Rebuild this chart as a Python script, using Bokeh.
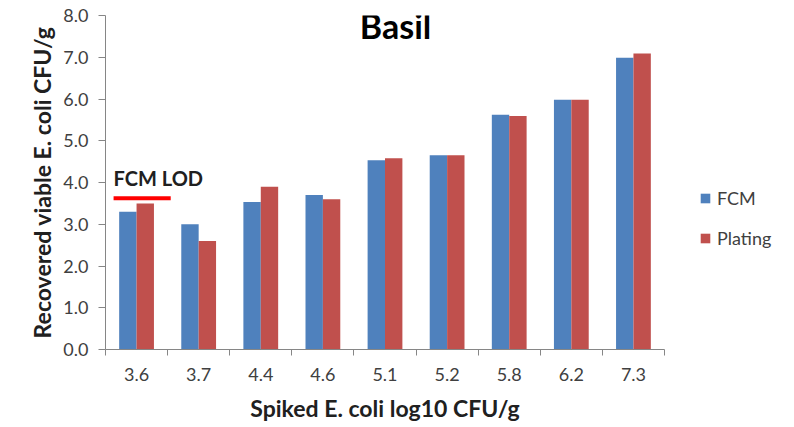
from bokeh.plotting import figure
from bokeh.models import (ColumnDataSource, FixedTicker, Legend, LegendItem, Range1d,
                          CustomJSTickFormatter, Label)
from bokeh.embed import file_html
from bokeh.resources import INLINE

categories = ["3.6", "3.7", "4.4", "4.6", "5.1", "5.2", "5.8", "6.2", "7.3"]
fcm = [3.3, 3.0, 3.53, 3.7, 4.53, 4.65, 5.62, 5.98, 6.99]
plating = [3.5, 2.6, 3.9, 3.6, 4.58, 4.65, 5.59, 5.98, 7.09]
y_ticks = [0, 1, 2, 3, 4, 5, 6, 7, 8]
lod_value = 3.62

FONT = "Lato"
BLUE = "#4F81BD"
RED = "#C0504D"
AXIS = "#868686"

n = len(categories)
centers = [i + 0.5 for i in range(n)]
bw = 0.28

p = figure(frame_width=559, frame_height=334, output_backend="svg", toolbar_location=None,
           x_range=Range1d(0, n), y_range=Range1d(0, 8),
           min_border_left=105, min_border_right=130, min_border_top=15, min_border_bottom=78)
p.outline_line_color = None
p.xgrid.visible = False
p.ygrid.visible = False

src = ColumnDataSource(dict(
    xf=[c - bw / 2 for c in centers],
    xp=[c + bw / 2 for c in centers],
    fcm=fcm, plating=plating))
r1 = p.vbar(x="xf", top="fcm", width=bw, source=src, fill_color=BLUE, line_color=None)
r2 = p.vbar(x="xp", top="plating", width=bw, source=src, fill_color=RED, line_color=None)

# x axis
p.xaxis.ticker = FixedTicker(ticks=centers, minor_ticks=list(range(n + 1)))
p.xaxis.major_label_overrides = {c: lab for c, lab in zip(centers, categories)}
p.xaxis.major_tick_line_color = None
p.xaxis.minor_tick_line_color = AXIS
p.xaxis.minor_tick_out = 6
p.xaxis.minor_tick_in = 0
p.xaxis.axis_line_color = AXIS
p.xaxis.major_label_text_font = FONT
p.xaxis.major_label_text_font_size = "18px"
p.xaxis.major_label_text_color = "#404040"
p.xaxis.major_label_standoff = 12
p.xaxis.axis_label = "Spiked E. coli log10 CFU/g"
p.xaxis.axis_label_text_font = FONT
p.xaxis.axis_label_text_font_style = "bold"
p.xaxis.axis_label_text_font_size = "23px"
p.xaxis.axis_label_text_color = "#202020"
p.xaxis.axis_label_standoff = 10

# y axis
p.yaxis.ticker = FixedTicker(ticks=y_ticks)
p.yaxis.formatter = CustomJSTickFormatter(code="return tick.toFixed(1);")
p.yaxis.major_tick_line_color = AXIS
p.yaxis.major_tick_out = 7
p.yaxis.major_tick_in = 0
p.yaxis.minor_tick_line_color = None
p.yaxis.axis_line_color = AXIS
p.yaxis.major_label_text_font = FONT
p.yaxis.major_label_text_font_size = "18px"
p.yaxis.major_label_text_color = "#404040"
p.yaxis.major_label_standoff = 10
p.yaxis.axis_label = "Recovered viable E. coli CFU/g"
p.yaxis.axis_label_text_font = FONT
p.yaxis.axis_label_text_font_style = "bold"
p.yaxis.axis_label_text_font_size = "23px"
p.yaxis.axis_label_text_color = "#202020"
p.yaxis.axis_label_standoff = 4

# LOD marker
p.line(x=[0.13, 1.05], y=[lod_value, lod_value], line_color="#FF0000", line_width=4)
p.add_layout(Label(x=0.13, y=lod_value + 0.2, text="FCM LOD", text_font=FONT,
                   text_font_style="bold", text_font_size="20px", text_color="#202020"))

# Title
p.add_layout(Label(x=4.67, y=7.28, text="Basil", text_font=FONT, text_font_style="bold",
                   text_font_size="34px", text_color="#000000", text_align="center"))

legend = Legend(items=[LegendItem(label="FCM", renderers=[r1]),
                       LegendItem(label="Plating", renderers=[r2])],
                location=(35, 100), orientation="vertical",
                label_text_font=FONT, label_text_font_size="18px", label_text_color="#404040",
                glyph_width=12, glyph_height=12, label_height=20, spacing=18,
                padding=0, margin=0, border_line_color=None, background_fill_alpha=0,
                label_standoff=6)
p.add_layout(legend, "right")

open("out.html", "w").write(file_html(p, INLINE))
